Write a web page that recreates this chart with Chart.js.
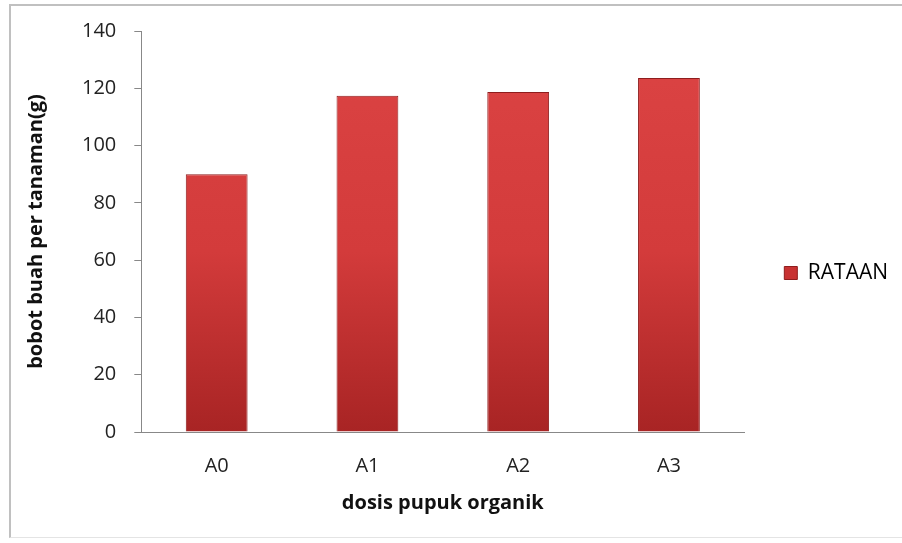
<!DOCTYPE html>
<html><head><meta charset="utf-8">
<script src="https://cdn.jsdelivr.net/npm/chart.js@4.4.1/dist/chart.umd.min.js"></script>
<style>
html,body{margin:0;padding:0;background:#fff;}
#wrap{position:relative;width:902px;height:543px;}
#frame{position:absolute;left:9px;top:4px;width:900px;height:534px;border-top:2px solid #c0c0c0;border-left:2px solid #c0c0c0;border-bottom:1px solid #e4e4e4;box-sizing:border-box;}
canvas{position:absolute;left:0;top:0;}
</style></head>
<body><div id="wrap"><div id="frame"></div><canvas id="c" width="902" height="543"></canvas></div>
<script>
const categories = ["A0","A1","A2","A3"];
const rataan = [90, 117.4, 118.7, 123.6];
const seriesName = "RATAAN";
const yTitle = "bobot buah per tanaman(g)";
const xTitle = "dosis pupuk organik";

function barFill(ctx){
  const chart = ctx.chart; const ca = chart.chartArea;
  if(!ca) return '#d43c3c';
  const g = chart.ctx.createLinearGradient(0, ca.top, 0, ca.bottom);
  g.addColorStop(0, '#dc4444');
  g.addColorStop(0.55, '#d33b3b');
  g.addColorStop(1, '#a82424');
  return g;
}
const font = "'Open Sans', 'Liberation Sans', sans-serif";
new Chart(document.getElementById('c'), {
  type: 'bar',
  data: { labels: categories, datasets: [{ label: seriesName, data: rataan,
    backgroundColor: barFill, borderColor: '#8f1d1d', borderWidth: 1,
    barPercentage: 0.41, categoryPercentage: 1 }] },
  options: {
    responsive: false, animation: false, devicePixelRatio: 1,
    layout: { padding: { left: 20, right: 4, top: 31, bottom: 28 } },
    plugins: {
      tooltip: { enabled: false },
      legend: { position: 'right', align: 'center',
        labels: { boxWidth: 13, boxHeight: 13, padding: 40, color: '#222',
          font: { family: font, size: 21 },
          generateLabels: (chart) => [{ text: seriesName, fillStyle: '#c83232', strokeStyle: '#8f1d1d', lineWidth: 1, datasetIndex: 0 }] } }
    },
    scales: {
      x: { grid: { display: false }, border: { display: true, color: '#888', width: 1 },
        ticks: { color: '#222', font: { family: font, size: 20 }, padding: 14 },
        title: { display: true, text: xTitle, color: '#111', font: { family: font, size: 20, weight: 'bold' }, padding: { top: -1, bottom: 0 } } },
      y: { min: 0, max: 140, ticks: { stepSize: 20, color: '#222', font: { family: font, size: 20 }, padding: 18 },
        grid: { display: true, drawOnChartArea: false, drawTicks: true, tickLength: 7, color: '#888' },
        border: { display: true, color: '#888', width: 1 },
        title: { display: true, text: yTitle, color: '#111', font: { family: font, size: 20, weight: 'bold' }, padding: { top: 4, bottom: 16 } } }
    }
  }
});
</script></body></html>
